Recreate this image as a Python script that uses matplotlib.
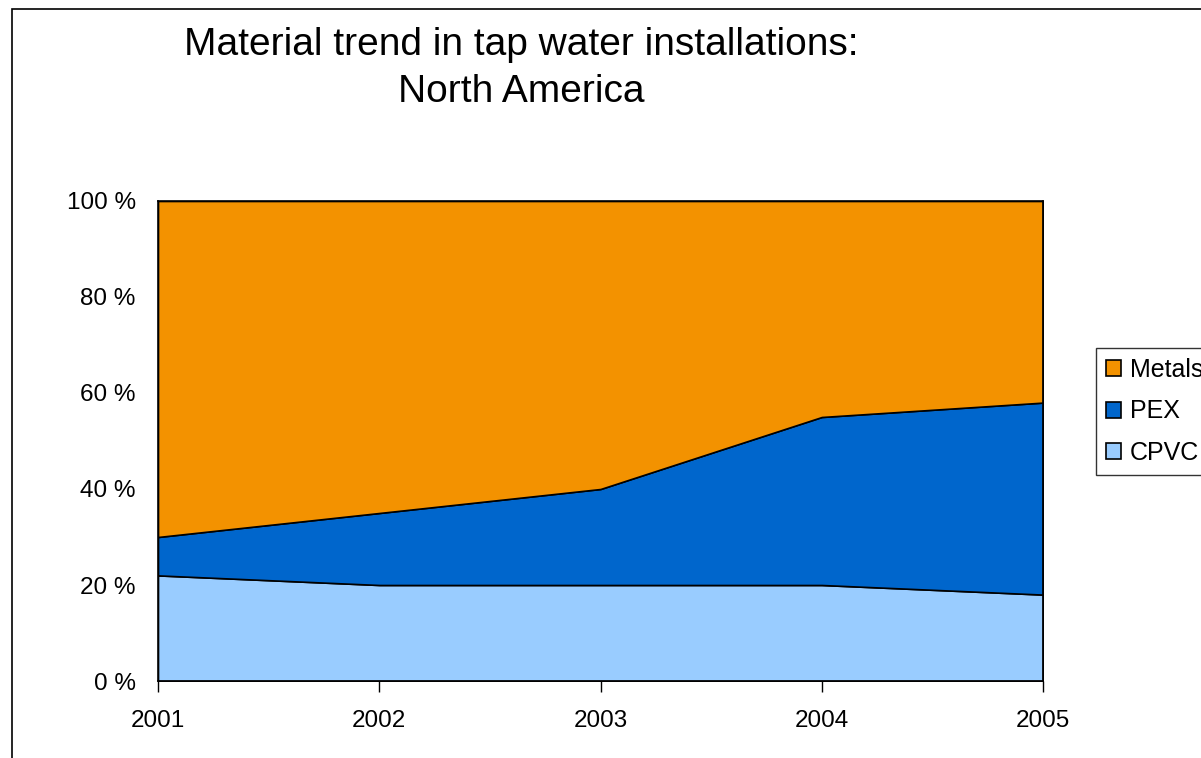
import matplotlib
matplotlib.use('Agg')
import matplotlib.pyplot as plt
from matplotlib.patches import Rectangle, Patch
import numpy as np

plt.rcParams['font.family'] = ['Liberation Sans', 'DejaVu Sans']

years = [2001, 2002, 2003, 2004, 2005]
cpvc = [22, 20, 20, 20, 18]
pex = [8, 15, 20, 35, 40]
metals = [70, 65, 60, 45, 42]
series_names = ['CPVC', 'PEX', 'Metals']
colors = ['#99ccff', '#0066cc', '#f39200']
y_ticks = [0, 20, 40, 60, 80, 100]

W, H = 1201, 758
fig = plt.figure(figsize=(W / 100, H / 100), dpi=100)
ax = fig.add_axes([158 / W, 1 - 681 / H, (1043 - 158) / W, (681 - 201) / H])

x = np.arange(len(years))
bottom = np.zeros(len(years))
for vals, col in zip([cpvc, pex, metals], colors):
    top = bottom + np.array(vals)
    ax.fill_between(x, bottom, top, facecolor=col, edgecolor='black', linewidth=1.2)
    bottom = top

ax.set_xlim(0, len(years) - 1)
ax.set_ylim(0, 100)
ax.set_xticks(x)
ax.set_xticklabels([str(y) for y in years], fontsize=17.5)
ax.set_yticks(y_ticks)
ax.set_yticklabels([f'{v} %' for v in y_ticks], fontsize=17.5)
ax.tick_params(axis='y', length=0, pad=16)
ax.tick_params(axis='x', length=8, width=1, pad=13, direction='out')
for s in ax.spines.values():
    s.set_linewidth(1.2)

fig.text(521 / W, 1 - 55 / H, 'Material trend in tap water installations:',
         ha='center', va='baseline', fontsize=28)
fig.text(521 / W, 1 - 102 / H, 'North America',
         ha='center', va='baseline', fontsize=28)

handles = [Patch(facecolor=c, edgecolor='black', linewidth=1.2) for c in colors[::-1]]
fig.legend(handles, series_names[::-1], loc='upper left',
           bbox_to_anchor=(1096 / W, 1 - 348 / H), fontsize=18,
           frameon=True, fancybox=False, edgecolor='black',
           handlelength=0.6, handleheight=0.6, handletextpad=0.36,
           labelspacing=0.7, borderpad=0.4, borderaxespad=0)

fig.patches.append(Rectangle((12 / W, -0.1), 1.2, 1 - 9 / H + 0.1,
                             transform=fig.transFigure, fill=False,
                             edgecolor='black', linewidth=1.2))

fig.savefig('out.png', dpi=100)
